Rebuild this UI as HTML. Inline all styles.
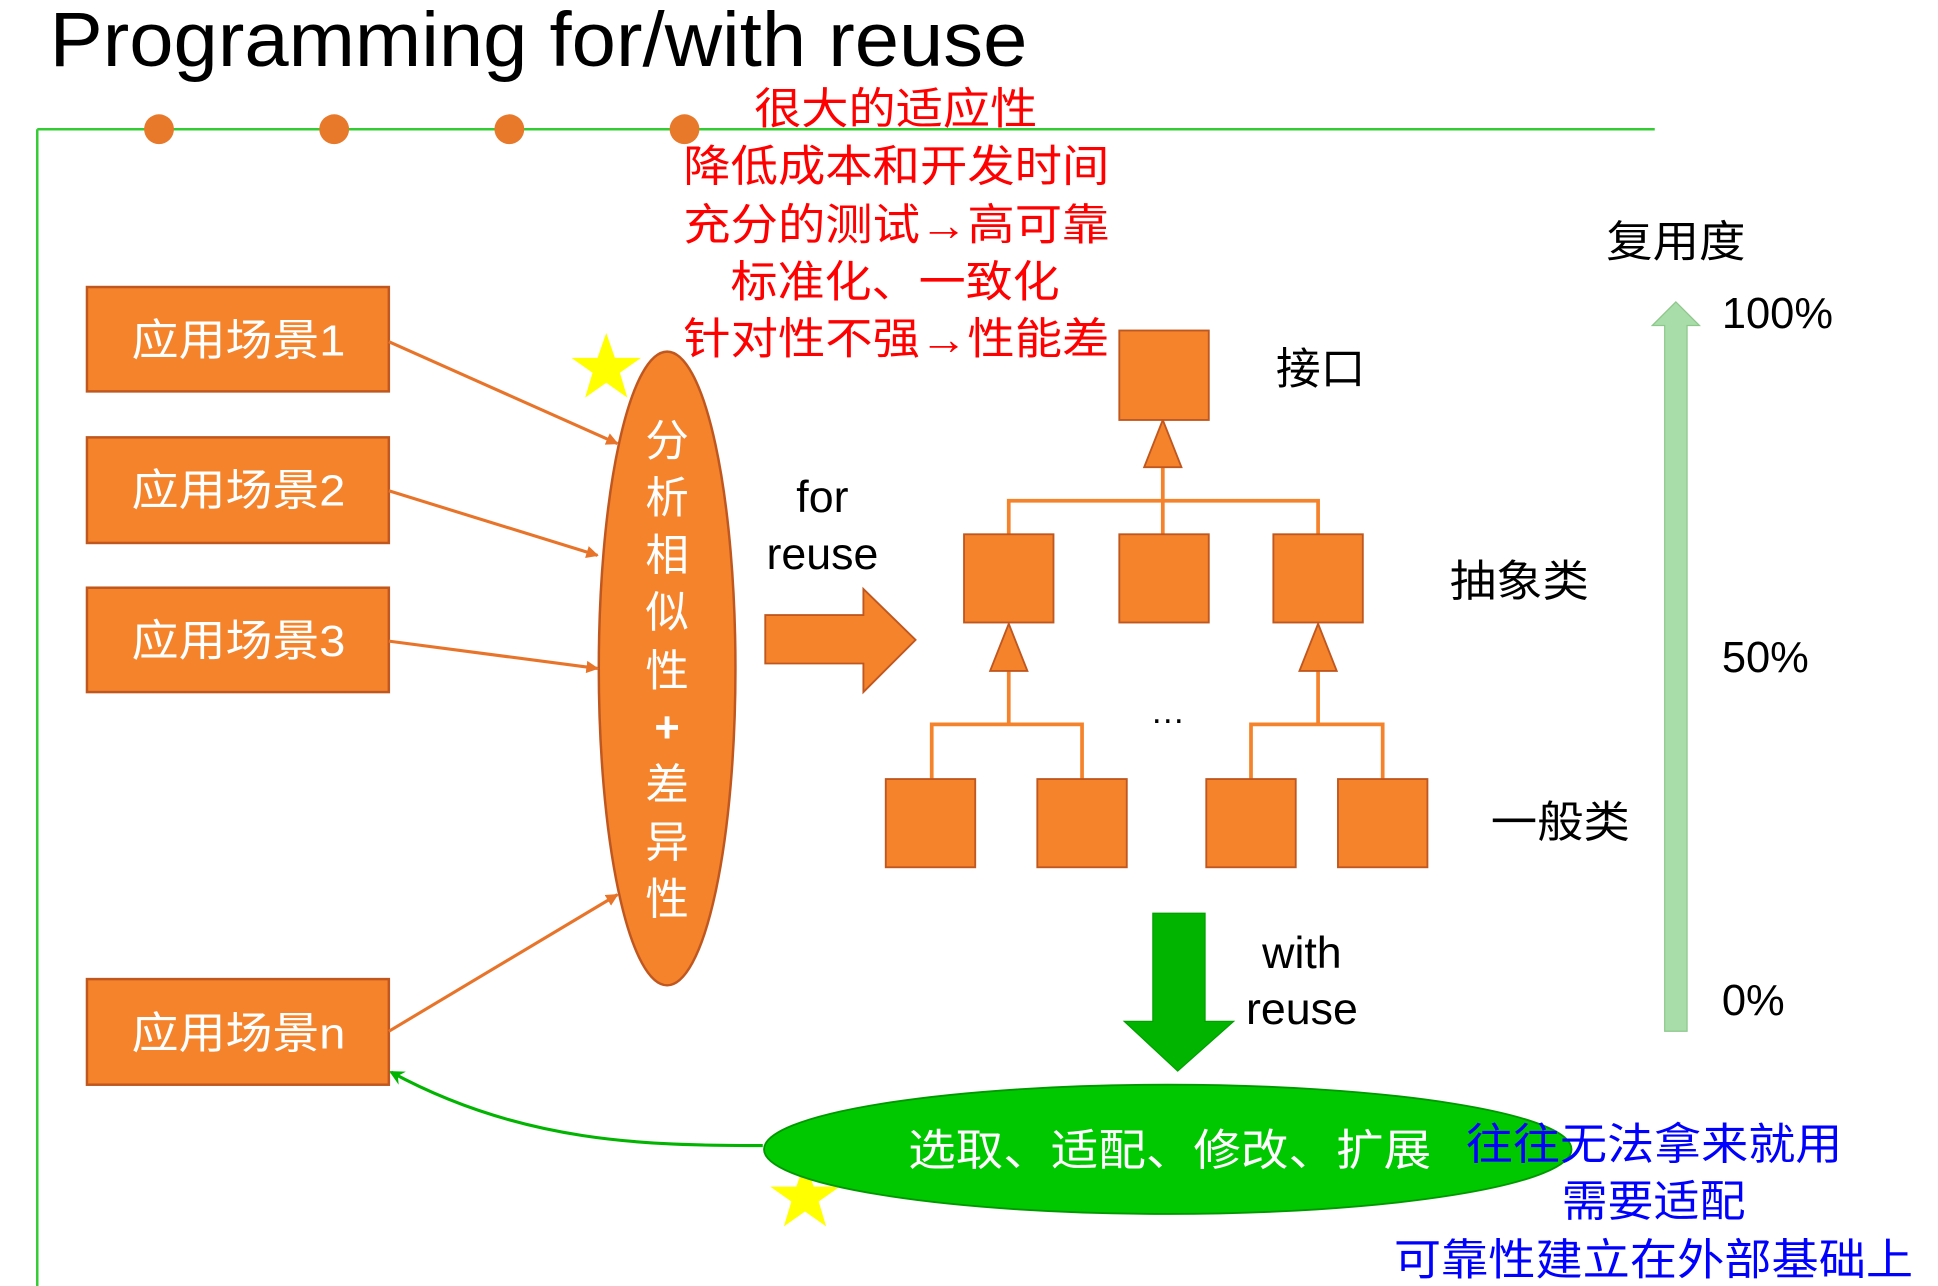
<!DOCTYPE html>
<html><head><meta charset="utf-8"><style>
html,body{margin:0;padding:0;background:#fff;}
svg{display:block;}
text{font-family:"Liberation Sans","Noto Sans CJK SC",sans-serif;}
</style></head><body>
<svg width="1938" height="1286" viewBox="0 0 1560 1035" preserveAspectRatio="none" xmlns="http://www.w3.org/2000/svg">
<defs>
<marker id="ao" markerWidth="10" markerHeight="10" refX="9" refY="5" orient="auto" markerUnits="userSpaceOnUse"><path d="M0,0 L10,5 L0,10 z" fill="#E8742A"/></marker>
<marker id="ag" markerWidth="12" markerHeight="12" refX="10" refY="6" orient="auto" markerUnits="userSpaceOnUse"><path d="M0,0 L12,6 L0,12 L4,6 z" fill="#00B400"/></marker>
</defs>
<text x="40" y="53" font-size="62" fill="#000" textLength="787" lengthAdjust="spacingAndGlyphs">Programming for/with reuse</text>
<line x1="30" y1="104" x2="1332" y2="104" stroke="#33CC33" stroke-width="2"/>
<line x1="30" y1="104" x2="30" y2="1035" stroke="#33CC33" stroke-width="2"/>
<g fill="#E8782A"><circle cx="128" cy="104" r="12"/><circle cx="269" cy="104" r="12"/><circle cx="410" cy="104" r="12"/><circle cx="551" cy="104" r="12"/></g>
<g fill="#FF0000" font-size="35" lengthAdjust="spacingAndGlyphs">
<text x="607" y="100" textLength="228" lengthAdjust="spacingAndGlyphs">很大的适应性</text>
<text x="550" y="146" textLength="343" lengthAdjust="spacingAndGlyphs">降低成本和开发时间</text>
<text x="550" y="193" textLength="343" lengthAdjust="spacingAndGlyphs">充分的测试<tspan font-weight="bold">→</tspan>高可靠</text>
<text x="588" y="239" textLength="265" lengthAdjust="spacingAndGlyphs">标准化、一致化</text>
<text x="550" y="285" textLength="343" lengthAdjust="spacingAndGlyphs">针对性不强<tspan font-weight="bold">→</tspan>性能差</text>
</g>
<g fill="#F5832B" stroke="#C0571F" stroke-width="2">
<rect x="70" y="231" width="243" height="84"/>
<rect x="70" y="352" width="243" height="85"/>
<rect x="70" y="473" width="243" height="84"/>
<rect x="70" y="788" width="243" height="85"/>
</g>
<g fill="#fff" font-size="35">
<text x="106" y="286" textLength="172" lengthAdjust="spacingAndGlyphs">应用场景1</text>
<text x="106" y="407" textLength="172" lengthAdjust="spacingAndGlyphs">应用场景2</text>
<text x="106" y="528" textLength="172" lengthAdjust="spacingAndGlyphs">应用场景3</text>
<text x="106" y="844" textLength="172" lengthAdjust="spacingAndGlyphs">应用场景n</text>
</g>
<ellipse cx="537" cy="538" rx="55" ry="255" fill="#F5832B" stroke="#C0571F" stroke-width="2"/>
<g fill="#fff" font-size="35" text-anchor="middle">
<text x="537" y="367">分</text><text x="537" y="413">析</text><text x="537" y="459">相</text><text x="537" y="505">似</text><text x="537" y="552">性</text><text x="537" y="597" font-weight="bold">+</text><text x="537" y="644">差</text><text x="537" y="690">异</text><text x="537" y="736">性</text>
</g>
<g stroke="#E8742A" stroke-width="2.5" marker-end="url(#ao)">
<line x1="313" y1="275" x2="497" y2="357"/>
<line x1="313" y1="395" x2="481" y2="447"/>
<line x1="313" y1="516" x2="481" y2="538"/>
<line x1="313" y1="830" x2="497" y2="720"/>
</g>
<polygon points="488,268 495,288 516,288 499,300 505,320 488,308 471,320 477,300 460,288 481,288" fill="#FFFF00"/>
<polygon points="648,935 655,955 676,955 659,967 665,987 648,975 631,987 637,967 620,955 641,955" fill="#FFFF00"/>
<g font-size="36" fill="#000" text-anchor="middle"><text x="662" y="412">for</text><text x="662" y="458">reuse</text></g>
<polygon points="616,495 695,495 695,474 737,515 695,557 695,534 616,534" fill="#F5832B" stroke="#C0571F" stroke-width="1.5"/>
<g fill="none" stroke="#F5832B" stroke-width="3">
<line x1="936" y1="375" x2="936" y2="430"/>
<polyline points="812,430 812,403 1061,403 1061,430"/>
<line x1="812" y1="540" x2="812" y2="583"/>
<line x1="1061" y1="540" x2="1061" y2="583"/>
<polyline points="750,627 750,583 871,583 871,627"/>
<polyline points="1007,627 1007,583 1113,583 1113,627"/>
</g>
<g fill="#F5832B" stroke="#C0571F" stroke-width="1.5">
<polygon points="936,338 951,376 921,376"/>
<polygon points="812,502 827,540 797,540"/>
<polygon points="1061,502 1076,540 1046,540"/>
<rect x="901" y="266" width="72" height="72"/>
<rect x="776" y="430" width="72" height="71"/>
<rect x="901" y="430" width="72" height="71"/>
<rect x="1025" y="430" width="72" height="71"/>
<rect x="713" y="627" width="72" height="71"/>
<rect x="835" y="627" width="72" height="71"/>
<rect x="971" y="627" width="72" height="71"/>
<rect x="1077" y="627" width="72" height="71"/>
</g>
<g font-size="35" fill="#000">
<text x="1027" y="309" textLength="72" lengthAdjust="spacingAndGlyphs">接口</text>
<text x="1167" y="480" textLength="112" lengthAdjust="spacingAndGlyphs">抽象类</text>
<text x="1200" y="674" textLength="112" lengthAdjust="spacingAndGlyphs">一般类</text>
<text x="940" y="582" text-anchor="middle" font-size="28">…</text>
<text x="1048" y="779" text-anchor="middle" font-size="36">with</text>
<text x="1048" y="824" text-anchor="middle" font-size="36">reuse</text>
<text x="1293" y="207" textLength="112" lengthAdjust="spacingAndGlyphs">复用度</text>
<text x="1386" y="264">100%</text>
<text x="1386" y="541">50%</text>
<text x="1386" y="817">0%</text>
</g>
<polygon points="928,735 970,735 970,822 993,822 948,862 905,822 928,822" fill="#00B400" stroke="#00A000" stroke-width="1"/>
<ellipse cx="940" cy="925" rx="325" ry="52" fill="#00C800" stroke="#009900" stroke-width="1.5"/>
<path d="M614,922 C520,922 420,920 315,863" fill="none" stroke="#00B400" stroke-width="2.5" marker-end="url(#ag)"/>
<text x="731" y="938" fill="#fff" font-size="35" textLength="421" lengthAdjust="spacingAndGlyphs">选取、适配、修改、扩展</text>
<g fill="#0000FF" font-size="35">
<text x="1180" y="933" textLength="303" lengthAdjust="spacingAndGlyphs">往往无法拿来就用</text>
<text x="1257" y="979" textLength="148" lengthAdjust="spacingAndGlyphs">需要适配</text>
<text x="1122" y="1026" textLength="418" lengthAdjust="spacingAndGlyphs">可靠性建立在外部基础上</text>
</g>
<polygon points="1349,243 1368,262 1358,262 1358,830 1340,830 1340,262 1330,262" fill="#A8DCA8" stroke="#8CC88C" stroke-width="1"/>
</svg>
</body></html>
